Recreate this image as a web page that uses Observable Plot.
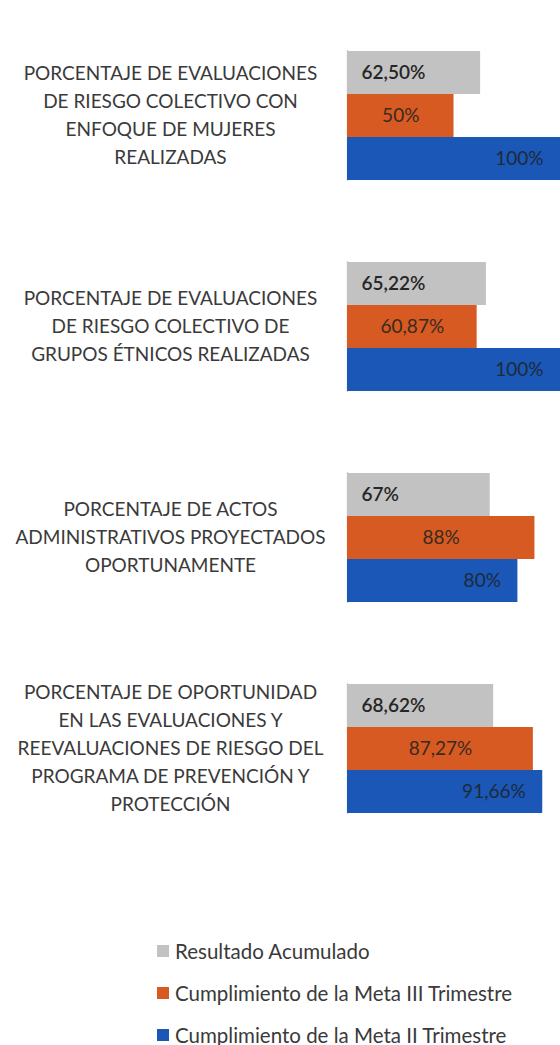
<!DOCTYPE html>
<html>
<head>
<meta charset="utf-8">
<script src="https://cdn.jsdelivr.net/npm/d3@7"></script>
<script src="https://cdn.jsdelivr.net/npm/@observablehq/plot@0.6"></script>
<style>
  html, body { margin: 0; padding: 0; background: #ffffff; }
  #chart { width: 560px; }
  .legend { font-family: Lato, "Open Sans", sans-serif; font-size: 20.5px; color: #3a3a3a; padding-left: 157px; padding-top: 66px; }
  .legend .row { height: 42px; display: flex; align-items: center; white-space: nowrap; }
  .legend .sw { width: 12px; height: 12px; margin-right: 6px; display: inline-block; flex: none; }
</style>
</head>
<body>
<div id="chart"></div>
<script>
const categories = [
  "PORCENTAJE DE EVALUACIONES\nDE RIESGO COLECTIVO CON\nENFOQUE DE MUJERES\nREALIZADAS",
  "PORCENTAJE DE EVALUACIONES\nDE RIESGO COLECTIVO DE\nGRUPOS ÉTNICOS REALIZADAS",
  "PORCENTAJE DE ACTOS\nADMINISTRATIVOS PROYECTADOS\nOPORTUNAMENTE",
  "PORCENTAJE DE OPORTUNIDAD\nEN LAS EVALUACIONES Y\nREEVALUACIONES DE RIESGO DEL\nPROGRAMA DE PREVENCIÓN Y\nPROTECCIÓN"
];
const series = ["Resultado Acumulado", "Cumplimiento de la Meta III Trimestre", "Cumplimiento de la Meta II Trimestre"];
const colors = ["#c2c2c2", "#d65a22", "#1a57b7"];
const resultadoAcumulado = [62.5, 65.22, 67, 68.62];
const metaIII = [50, 60.87, 88, 87.27];
const metaII = [100, 100, 80, 91.66];
const labelsAcumulado = ["62,50%", "65,22%", "67%", "68,62%"];
const labelsIII = ["50%", "60,87%", "88%", "87,27%"];
const labelsII = ["100%", "100%", "80%", "91,66%"];

const rows = [];
categories.forEach((c, i) => {
  rows.push({cat: c, s: series[0], v: resultadoAcumulado[i], lab: labelsAcumulado[i]});
  rows.push({cat: c, s: series[1], v: metaIII[i], lab: labelsIII[i]});
  rows.push({cat: c, s: series[2], v: metaII[i], lab: labelsII[i]});
});
const catRows = categories.map(c => ({cat: c}));
const font = "Lato, 'Open Sans', sans-serif";

const chart = Plot.plot({
  width: 560,
  height: 864,
  marginLeft: 347,
  marginRight: 0,
  marginTop: 12,
  marginBottom: 12,
  style: {fontFamily: font, background: "transparent"},
  x: {domain: [0, 100], axis: null},
  fy: {domain: categories, axis: null, paddingInner: 0.38, paddingOuter: 0.178},
  y: {domain: series, axis: null, padding: 0},
  color: {domain: series, range: colors},
  marks: [
    Plot.ruleX([0], {stroke: "#d6d6d6", strokeWidth: 1.5}),
    Plot.barX(rows, {fy: "cat", y: "s", x: "v", fill: "s"}),
    Plot.text(rows.filter(d => d.s === series[0]), {fy: "cat", y: "s", x: 0, text: "lab", textAnchor: "start", dx: 14, fontSize: 19, fill: "#262626", fontWeight: 600}),
    Plot.text(rows.filter(d => d.s === series[1]), {fy: "cat", y: "s", x: d => d.v / 2, text: "lab", textAnchor: "middle", fontSize: 19, fill: "#3a2a20"}),
    Plot.text(rows.filter(d => d.s === series[2]), {fy: "cat", y: "s", x: "v", text: "lab", textAnchor: "end", dx: -17, fontSize: 19, fill: "#1e2a3a"}),
    Plot.text(catRows, {fy: "cat", text: "cat", frameAnchor: "left", dx: -177, dy: -3, textAnchor: "middle", fontSize: 19, lineHeight: 1.47, fill: "#3a3a3a"})
  ]
});
document.getElementById("chart").appendChild(chart);

const legend = document.createElement("div");
legend.className = "legend";
series.forEach((s, i) => {
  const r = document.createElement("div");
  r.className = "row";
  const sw = document.createElement("span");
  sw.className = "sw";
  sw.style.background = colors[i];
  r.appendChild(sw);
  r.appendChild(document.createTextNode(s));
  legend.appendChild(r);
});
document.getElementById("chart").appendChild(legend);
</script>
</body>
</html>
